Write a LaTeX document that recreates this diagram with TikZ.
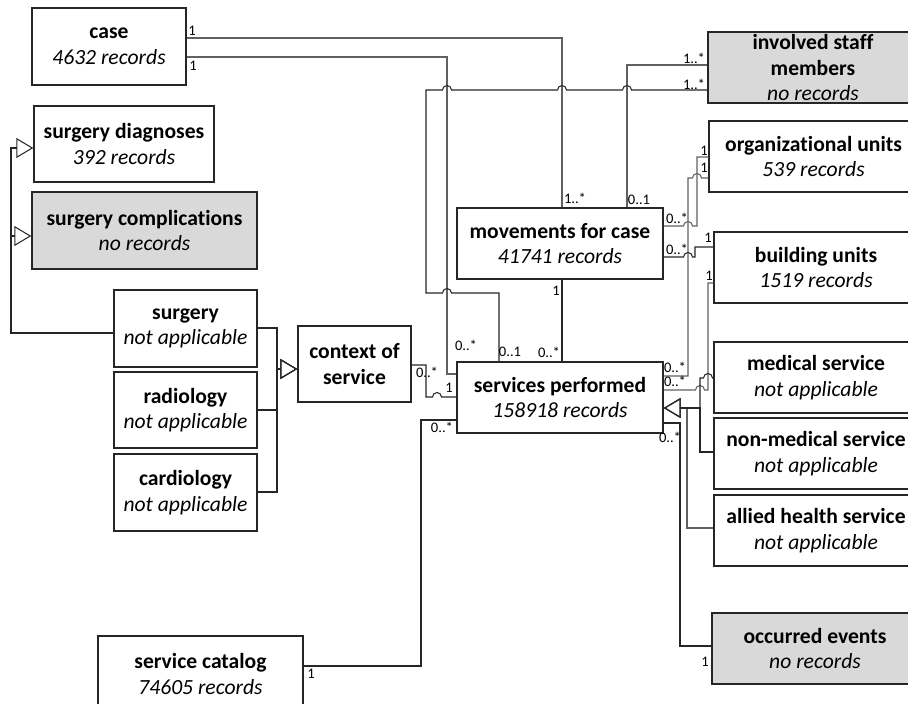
\documentclass[tikz,border=0pt]{standalone}
\usepackage{fontspec}
\setmainfont{Carlito}[Ligatures=NoCommon]
\usetikzlibrary{arrows.meta}

% line hops over crossing connectors
\newcommand{\hop}[2]{-- (#1-4.5,#2) arc[start angle=180,end angle=0,radius=0.09cm]}
\newcommand{\hopback}[2]{-- (#1+4.5,#2) arc[start angle=0,end angle=180,radius=0.09cm]}

\begin{document}
\begin{tikzpicture}[x=0.02cm,y=-0.02cm,
    entity/.style 2 args={draw=black!85,line width=0.8pt,fill=white,align=center,
      inner sep=0pt,minimum width=#1*0.02cm,minimum height=#2*0.02cm,
      font=\fontsize{12.3}{14.6}\selectfont},
    empty entity/.style 2 args={entity={#1}{#2},fill=black!15},
    mult/.style={inner sep=0pt,font=\fontsize{8.3}{9}\selectfont},
    link/.style={line width=0.6pt,draw=black!85},
    link gray/.style={line width=0.6pt,draw=black!62},
    gen/.style={link,-{Triangle[open,length=0.34cm,width=0.4cm]}}]

  \useasboundingbox (0,0) rectangle (908,703);

  % draw the entities
  \node [entity={154}{77}] (case) at (109,46.5) {\textbf{case}\\\textit{4632 records}};
  \node [entity={180}{76}] (surg_diag) at (124,144) {\textbf{surgery diagnoses}\\\textit{392 records}};
  \node [empty entity={225}{77}] (surg_compl) at (144.5,230.5) {\textbf{surgery complications}\\\textit{no records}};
  \node [entity={143}{77}] (surgery) at (185.5,328.5) {\textbf{surgery}\\\textit{not applicable}};
  \node [entity={143}{76}] (radiology) at (185.5,410) {\textbf{radiology}\\\textit{not applicable}};
  \node [entity={143}{77}] (cardiology) at (185.5,492.5) {\textbf{cardiology}\\\textit{not applicable}};
  \node [entity={113}{76}] (ctx_srv) at (354.5,364) {\textbf{context of}\\\textbf{service}};
  \node [entity={206}{71}] (mov_case) at (560,243.5) {\textbf{movements for case}\\\textit{41741 records}};
  \node [entity={206}{71}] (srv_perf) at (560,397.5) {\textbf{services performed}\\\textit{158918 records}};
  \node [empty entity={210}{71}] (staff) at (813,67.5) {\textbf{involved staff}\\\textbf{members}\\\textit{no records}};
  \node [entity={209}{71}] (org_units) at (813.5,156.5) {\textbf{organizational units}\\\textit{539 records}};
  \node [entity={204}{71}] (bld_units) at (816,267.5) {\textbf{building units}\\\textit{1519 records}};
  \node [entity={204}{71}] (med_srv) at (816,377.5) {\textbf{medical service}\\\textit{not applicable}};
  \node [entity={204}{71}] (nonmed_srv) at (816,453.5) {\textbf{non-medical service}\\\textit{not applicable}};
  \node [entity={204}{71}] (allied_srv) at (816,530.5) {\textbf{allied health service}\\\textit{not applicable}};
  \node [empty entity={206}{71}] (occ_events) at (815,648.5) {\textbf{occurred events}\\\textit{no records}};
  \node [entity={205}{76}] (srv_catalog) at (200.5,674) {\textbf{service catalog}\\\textit{74605 records}};

  % associations
  \draw [link gray] (case.east |- 0,38) -- (562,38) -- (mov_case.north -| 562,0);
  \draw [link gray] (case.east |- 0,57) -- (447,57) -- (447,374) -- (srv_perf.west |- 0,374);
  \draw [link gray] (staff.west |- 0,65) -- (627,65) -- (mov_case.north -| 627,0);
  \draw [link] (srv_perf.north -| 499,0) -- (499,293) \hopback{447}{293} -- (426,293) -- (426,90)
    \hop{447}{90} \hop{562}{90} \hop{627}{90} -- (staff.west |- 0,90);
  \draw [link] (mov_case.south -| 562,0) -- (srv_perf.north -| 562,0);
  \draw [link] (ctx_srv.east |- 0,365) -- (426,365) -- (426,397) \hop{437}{397} -- (srv_perf.west |- 0,397);
  \draw [link] (srv_catalog.east |- 0,666) -- (421,666) -- (421,420) -- (srv_perf.west |- 0,420);
  \draw [link gray] (mov_case.east |- 0,226) \hop{688}{226} -- (697,226) -- (697,157) -- (org_units.west |- 0,157);
  \draw [link gray] (srv_perf.east |- 0,376) -- (688,376) -- (688,178) \hop{697}{178} -- (org_units.west |- 0,178);
  \draw [link] (mov_case.east |- 0,257) \hop{688}{257} -- (695,257) -- (695,247) -- (bld_units.west |- 0,247);
  \draw [link gray] (srv_perf.east |- 0,390) \hop{700}{390} -- (708,390) -- (708,283) -- (bld_units.west |- 0,283);
  \draw [link] (srv_perf.east |- 0,423) -- (680,423) -- (680,646) -- (occ_events.west |- 0,646);

  % generalizations
  \draw [gen,draw=black!62] (allied_srv.west |- 0,528) -- (687,528) -- (687,408) -- (srv_perf.east |- 0,408);
  \draw [gen] (nonmed_srv.west |- 0,452) -- (700,452) -- (700,408) -- (srv_perf.east |- 0,408);
  \draw [gen] (med_srv.west |- 0,378) \hopback{708}{378} -- (700,378) -- (700,408) -- (srv_perf.east |- 0,408);
  \draw [gen] (surgery.east |- 0,328) -- (277,328) -- (277,369) -- (ctx_srv.west |- 0,369);
  \draw [gen] (radiology.east |- 0,410) -- (277,410) -- (277,369) -- (ctx_srv.west |- 0,369);
  \draw [gen] (cardiology.east |- 0,492) -- (277,492) -- (277,369) -- (ctx_srv.west |- 0,369);
  \draw [gen] (surgery.west |- 0,333) -- (11,333) -- (11,236) -- (surg_compl.west |- 0,236);
  \draw [gen] (surgery.west |- 0,333) -- (11,333) -- (11,148) -- (surg_diag.west |- 0,148);

  % multiplicities
  \node [mult] (m_case_mov) at (192,31) {1};
  \node [mult] (m_case_srv) at (193,66) {1};
  \node [mult] (m_staff_mov) at (694,58) {1..*};
  \node [mult] (m_staff_srv) at (694,84) {1..*};
  \node [mult] (m_mov_case) at (575,198) {1..*};
  \node [mult] (m_mov_staff) at (639,200) {0..1};
  \node [mult] (m_mov_srv) at (556,291) {1};
  \node [mult] (m_srv_case) at (466,345) {0..*};
  \node [mult] (m_srv_staff) at (510,352) {0..1};
  \node [mult] (m_srv_mov) at (549,352) {0..*};
  \node [mult] (m_ctx) at (427,372) {0..*};
  \node [mult] (m_srv_ctx) at (449,388) {1};
  \node [mult] (m_srv_cat) at (442,427) {0..*};
  \node [mult] (m_cat) at (311,674) {1};
  \node [mult] (m_mov_org) at (677,218) {0..*};
  \node [mult] (m_mov_bld) at (677,249) {0..*};
  \node [mult] (m_org_mov) at (704,151) {1};
  \node [mult] (m_org_srv) at (704,168) {1};
  \node [mult] (m_bld_mov) at (708,238) {1};
  \node [mult] (m_bld_srv) at (709,276) {1};
  \node [mult] (m_srv_org) at (675,367) {0..*};
  \node [mult] (m_srv_bld) at (675,381) {0..*};
  \node [mult] (m_srv_occ) at (670,437) {0..*};
  \node [mult] (m_occ) at (705,662) {1};

\end{tikzpicture}
\end{document}
